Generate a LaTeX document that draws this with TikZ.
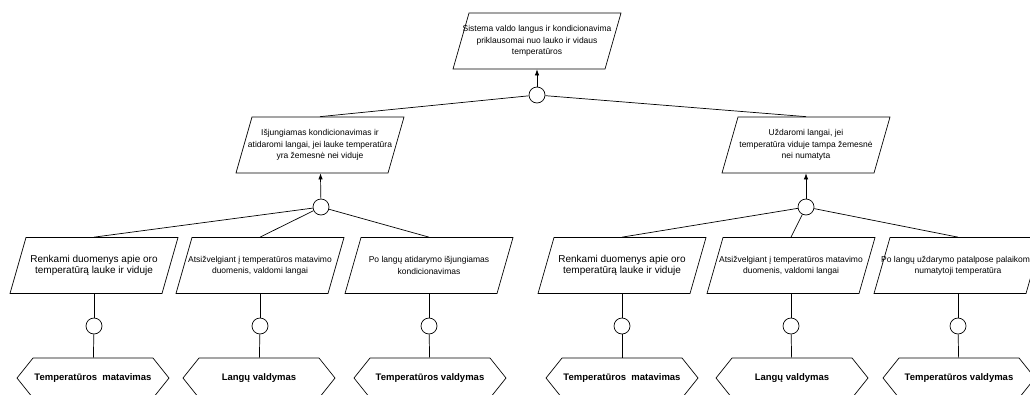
\documentclass[tikz,border=0pt]{standalone}
\usepackage{fontspec}
\setmainfont{Liberation Sans}
\usetikzlibrary{arrows.meta}

\tikzset{
  box/.style={minimum width=152pt, minimum height=56pt, inner sep=0pt, align=center, font=\fontsize{8.5}{11.3}\selectfont},
  bigbox/.style={box, font=\fontsize{10}{11.7}\selectfont},
  hexa/.style={minimum width=152pt, minimum height=40pt, inner sep=0pt, font=\bfseries\fontsize{9.5}{11}\selectfont},
  junc/.style={circle, draw, minimum size=16pt, inner sep=0pt},
  up/.style={-{Latex[length=6pt,width=4.5pt]}},
}

\begin{document}
\begin{tikzpicture}[x=1pt,y=-1pt,line width=0.7pt]
        \useasboundingbox (0,0) rectangle (1030,394);

        % goal and sub goals
        \node[box] (goal) at (537,41) {Sistema valdo langus ir kondicionavima\\priklausomai nuo lauko ir vidaus\\temperatūros};
        \node[junc] (jgoal) at (537,95) {};

        \node[box] (open) at (320,145) {Išjungiamas kondicionavimas ir\\atidaromi langai, jei lauke temperatūra\\yra žemesnė nei viduje};
        \node[box] (close) at (806,145) {Uždaromi langai, jei\\temperatūra viduje tampa žemesnė\\nei numatyta};
        \node[junc] (jopen) at (321,207) {};
        \node[junc] (jclose) at (806,207) {};

        % tasks
        \node[bigbox] (o1) at (94,265.5) {Renkami duomenys apie oro\\temperatūrą lauke ir viduje};
        \node[box] (o2) at (260,265.5) {Atsižvelgiant į temperatūros matavimo\\duomenis, valdomi langai};
        \node[box] (o3) at (429,265.5) {Po langų atidarymo išjungiamas\\kondicionavimas};
        \node[bigbox] (c1) at (622,265.5) {Renkami duomenys apie oro\\temperatūrą lauke ir viduje};
        \node[box] (c2) at (791,265.5) {Atsižvelgiant į temperatūros matavimo\\duomenis, valdomi langai};
        \node[box] (c3) at (958,265.5) {Po langų uždarymo patalpose palaikoma\\numatytoji temperatūra};

        % functions
        \node[hexa] (ho1) at (93,378) {Temperatūros~~matavimas};
        \node[hexa] (ho2) at (259,378) {Langų valdymas};
        \node[hexa] (ho3) at (430,378) {Temperatūros valdymas};
        \node[hexa] (hc1) at (622,378) {Temperatūros~~matavimas};
        \node[hexa] (hc2) at (792,378) {Langų valdymas};
        \node[hexa] (hc3) at (959,378) {Temperatūros valdymas};

        \foreach \n in {goal,open,close,o1,o2,o3,c1,c2,c3}
            \draw (\n.center) ++(-84,28) -- ++(16,-56) -- ++(152,0) -- ++(-16,56) -- cycle;
        \foreach \n in {ho1,ho2,ho3,hc1,hc2,hc3}
            \draw (\n.center) ++(-60,-20) -- ++(120,0) -- ++(16,20) -- ++(-16,20) -- ++(-120,0) -- ++(-16,-20) -- cycle;

        \draw[up] (jgoal) -- (goal);
        \draw (jgoal) -- (open.north);
        \draw (jgoal) -- (close.north);

        \draw[up] (jopen) -- (open);
        \draw[up] (jclose) -- (close);
        \foreach \t in {o1,o2,o3} \draw (jopen) -- (\t.north);
        \foreach \t in {c1,c2,c3} \draw (jclose) -- (\t.north);

        \foreach \t in {o1,o2,o3,c1,c2,c3} {
            \node[junc] (j\t) at ([yshift=-60.5pt]\t.center) {};
            \draw (\t) -- (j\t);
            \draw (j\t) -- (h\t);
        }
    
    \end{tikzpicture}
\end{document}
